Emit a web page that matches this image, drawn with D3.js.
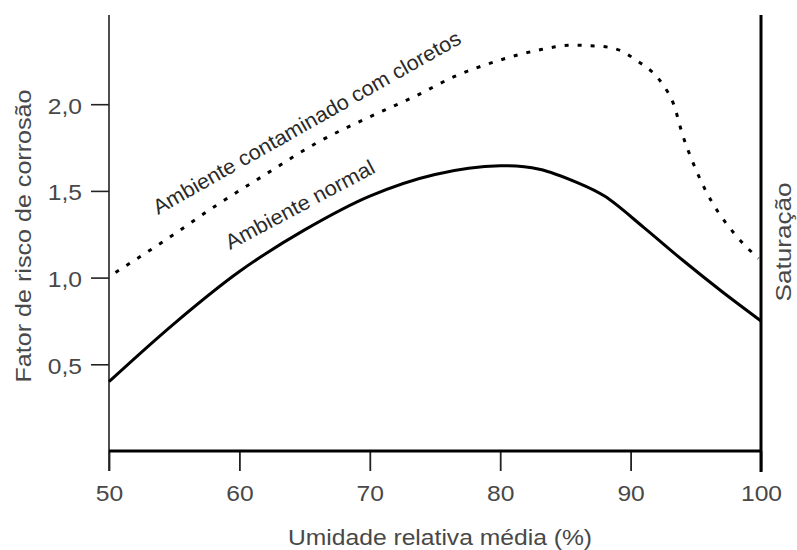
<!DOCTYPE html>
<html><head><meta charset="utf-8">
<script src="https://cdn.jsdelivr.net/npm/d3@7"></script>
<style>body{margin:0;background:#fff}svg{display:block}text{font-family:"Liberation Sans",Arial,sans-serif}</style>
</head><body>
<svg id="c" width="797" height="550"></svg>
<script>
const xTicks = [50, 60, 70, 80, 90, 100];
const yTicks = [0.5, 1.0, 1.5, 2.0];
const yTickLabels = ["0,5", "1,0", "1,5", "2,0"];

const normalX = [50, 55, 60, 65, 70, 75, 80, 83, 86, 88, 91, 94, 97, 100];
const normalY = [0.40, 0.735, 1.035, 1.275, 1.47, 1.595, 1.645, 1.625, 1.545, 1.47, 1.29, 1.10, 0.92, 0.75];

const chlorideX = [50.5, 54.4, 58.3, 62.1, 66.0, 69.8, 73.6, 76.5, 79.8, 82.8, 85.5, 87.5, 89.2, 90.5, 91.6, 92.5, 93.3, 94.0, 94.8, 95.7, 96.7, 98.0, 99.8];
const chlorideY = [1.03, 1.22, 1.42, 1.60, 1.78, 1.92, 2.05, 2.16, 2.25, 2.31, 2.34, 2.335, 2.31, 2.25, 2.19, 2.11, 2.00, 1.82, 1.66, 1.51, 1.38, 1.25, 1.11];

const xTitle = "Umidade relativa média (%)";
const yTitle = "Fator de risco de corrosão";
const satLabel = "Saturação";
const chlorideLabel = "Ambiente contaminado com cloretos";
const normalLabel = "Ambiente normal";

const svg = d3.select("#c");
const x = d3.scaleLinear().domain([50, 100]).range([109, 761]);
const y = d3.scaleLinear().domain([0, 2.5]).range([451, 17.5]);
const textColor = "#484848";

function stretch(sel, f) {
  sel.each(function () {
    const L = this.getComputedTextLength();
    d3.select(this).attr("textLength", L * f).attr("lengthAdjust", "spacingAndGlyphs");
  });
}

// X axis ticks + labels
const gx = svg.append("g").attr("transform", `translate(0,${y(0)})`)
  .call(d3.axisBottom(x).tickValues(xTicks).tickSize(20).tickPadding(14).tickFormat(d3.format("d")));
gx.select(".domain").remove();
gx.selectAll(".tick line").attr("stroke", "#222").attr("stroke-width", 1.8);
gx.selectAll(".tick text").attr("font-size", 22).attr("fill", textColor)
  .attr("font-family", '"Liberation Sans",Arial,sans-serif').call(stretch, 1.12);

// Y axis ticks + labels
const gy = svg.append("g").attr("transform", `translate(${x(50)},0)`)
  .call(d3.axisLeft(y).tickValues(yTicks).tickSize(18).tickPadding(9)
    .tickFormat((d, i) => yTickLabels[i]));
gy.select(".domain").remove();
gy.selectAll(".tick line").attr("stroke", "#222").attr("stroke-width", 1.6);
gy.selectAll(".tick text").attr("font-size", 22).attr("fill", textColor).attr("dy", "0.4em")
  .attr("font-family", '"Liberation Sans",Arial,sans-serif').call(stretch, 1.12);

// Axis frame lines
svg.append("line").attr("x1", x(50)).attr("x2", x(50)).attr("y1", 15).attr("y2", 471)
  .attr("stroke", "#222").attr("stroke-width", 1.6);
svg.append("line").attr("x1", x(50)).attr("x2", x(100)).attr("y1", y(0)).attr("y2", y(0))
  .attr("stroke", "#000").attr("stroke-width", 3);
svg.append("line").attr("x1", x(100)).attr("x2", x(100)).attr("y1", 15).attr("y2", 472)
  .attr("stroke", "#000").attr("stroke-width", 3);

// Curves
const lineSmooth = d3.line().x(d => x(d[0])).y(d => y(d[1])).curve(d3.curveCatmullRom.alpha(0.5));
const lineMono = d3.line().x(d => x(d[0])).y(d => y(d[1])).curve(d3.curveMonotoneX);
svg.append("path").datum(normalX.map((v, i) => [v, normalY[i]]))
  .attr("d", lineSmooth).attr("fill", "none").attr("stroke", "#000").attr("stroke-width", 3);
svg.append("path").datum(chlorideX.map((v, i) => [v, chlorideY[i]]))
  .attr("d", lineMono).attr("fill", "none").attr("stroke", "#000").attr("stroke-width", 3)
  .attr("stroke-dasharray", "4,9");

// Titles
svg.append("text").attr("x", 440).attr("y", 545).attr("text-anchor", "middle")
  .attr("font-size", 22).attr("fill", textColor).text(xTitle)
  .attr("textLength", 304).attr("lengthAdjust", "spacingAndGlyphs");
svg.append("text").attr("transform", "translate(31,236) rotate(-90)").attr("text-anchor", "middle")
  .attr("font-size", 22).attr("fill", textColor).text(yTitle)
  .attr("textLength", 293).attr("lengthAdjust", "spacingAndGlyphs");
svg.append("text").attr("transform", "translate(791,242) rotate(-90)").attr("text-anchor", "middle")
  .attr("font-size", 22).attr("fill", textColor).text(satLabel)
  .attr("textLength", 119).attr("lengthAdjust", "spacingAndGlyphs");

// Curve annotations
svg.append("text").attr("transform", "translate(158,215) rotate(-29.5)")
  .attr("font-size", 21).attr("fill", "#2a2a2a").text(chlorideLabel)
  .attr("textLength", 350).attr("lengthAdjust", "spacingAndGlyphs");
svg.append("text").attr("transform", "translate(230,250) rotate(-28)")
  .attr("font-size", 21).attr("fill", "#2a2a2a").text(normalLabel)
  .attr("textLength", 166).attr("lengthAdjust", "spacingAndGlyphs");
</script>
</body></html>
